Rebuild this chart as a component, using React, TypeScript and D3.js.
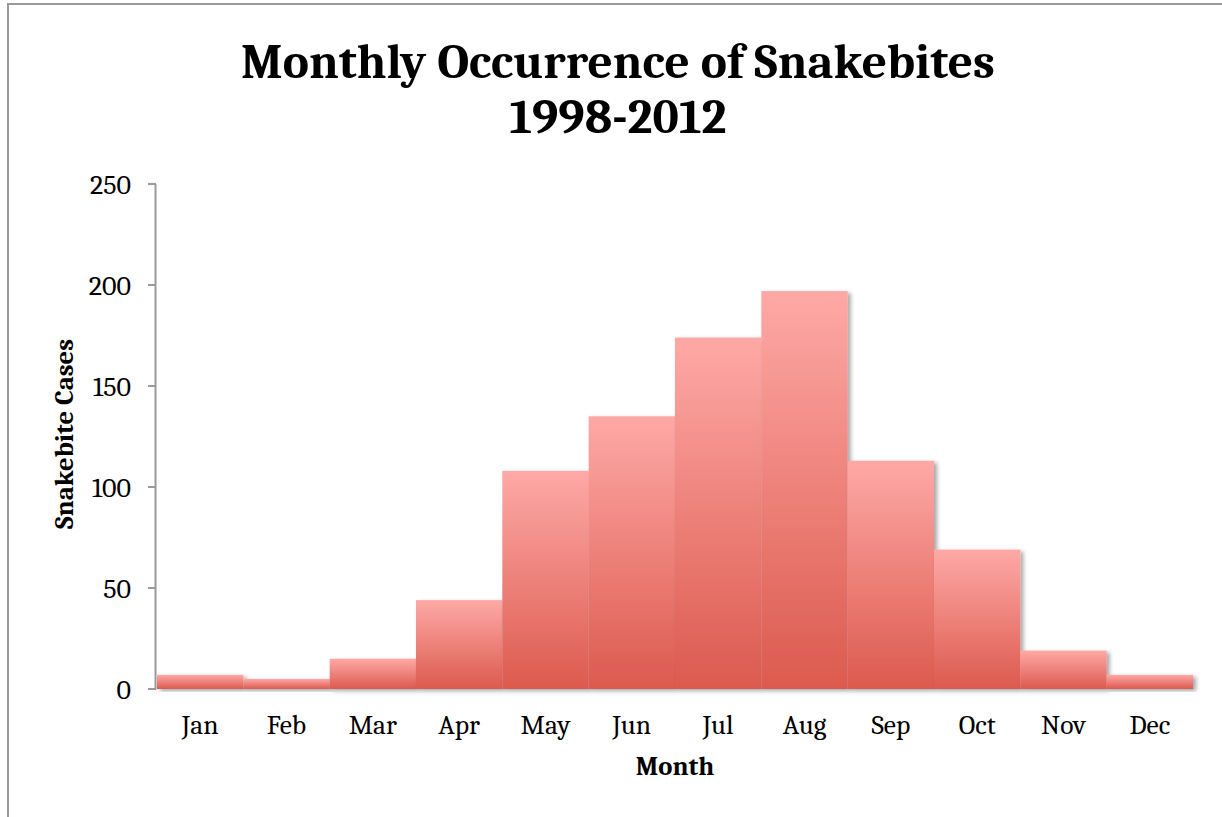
import React from "react";
import * as d3 from "d3";

const months = ["Jan","Feb","Mar","Apr","May","Jun","Jul","Aug","Sep","Oct","Nov","Dec"];
const cases = [7, 5, 15, 44, 108, 135, 174, 197, 113, 69, 19, 7];
const yTicks = [0, 50, 100, 150, 200, 250];
const titleLines = ["Monthly Occurrence of Snakebites", "1998-2012"];

const W = 1222, H = 817;
const left = 157, right = 1193, top = 184, bottom = 689;
const serif = "Cambria, 'Liberation Serif', 'DejaVu Serif', serif";

export default function App() {
  const x = d3.scaleBand<string>().domain(months).range([left, right]).padding(0);
  const y = d3.scaleLinear().domain([0, 250]).range([bottom, top]);
  return (
    <svg width={W} height={H} style={{ position: "absolute", left: 0, top: 0, background: "#fff" }}>
      <defs>
        <linearGradient id="barGrad" x1="0" y1="0" x2="0" y2="1">
          <stop offset="0%" stopColor="#fea9a6" />
          <stop offset="100%" stopColor="#dc5a4e" />
        </linearGradient>
        <filter id="shadow" x="-10%" y="-10%" width="130%" height="130%">
          <feDropShadow dx="3" dy="2" stdDeviation="2" floodColor="#000" floodOpacity="0.35" />
        </filter>
        <filter id="axShadow" x="-5%" y="-100%" width="110%" height="400%">
          <feDropShadow dx="1" dy="2" stdDeviation="1" floodColor="#000" floodOpacity="0.3" />
        </filter>
      </defs>
      <rect x={8} y={4} width={1230} height={830} fill="none" stroke="#9a9a9a" strokeWidth={2} />
      {titleLines.map((t, i) => (
        <text key={i} x={618} y={78 + i * 55} textAnchor="middle" fontFamily={serif}
          fontWeight="bold" fontSize={49.4} fill="#000">{t}</text>
      ))}
      {/* y axis */}
      <line x1={155.5} x2={155.5} y1={top} y2={bottom + 1} stroke="#9a9a9a" strokeWidth={2} />
      {yTicks.map(v => (
        <g key={v}>
          <line x1={148} x2={156} y1={y(v)} y2={y(v)} stroke="#9a9a9a" strokeWidth={2} />
          <text x={131} y={y(v) + 9.5} textAnchor="end" fontFamily={serif} fontSize={28} fill="#000">{v}</text>
        </g>
      ))}
      {/* bars */}
      {months.map((m, i) => (
        <rect key={m} x={x(m)!} y={y(cases[i])} width={x.bandwidth()} height={y(0) - y(cases[i])}
          fill="url(#barGrad)" filter="url(#shadow)" />
      ))}
      {/* x axis */}
      <line x1={148} x2={right} y1={bottom + 1} y2={bottom + 1} stroke="#9a9a9a" strokeWidth={2.5} filter="url(#axShadow)" />
      {months.map(m => (
        <text key={m} x={x(m)! + x.bandwidth() / 2} y={734} textAnchor="middle" fontFamily={serif} fontSize={27.5} fill="#000">{m}</text>
      ))}
      <text x={(left + right) / 2} y={775} textAnchor="middle" fontFamily={serif} fontWeight="bold" fontSize={26.7} fill="#000">Month</text>
      <text transform={`translate(73, 434) rotate(-90)`} textAnchor="middle" fontFamily={serif} fontWeight="bold" fontSize={26.7} fill="#000">Snakebite Cases</text>
    </svg>
  );
}
